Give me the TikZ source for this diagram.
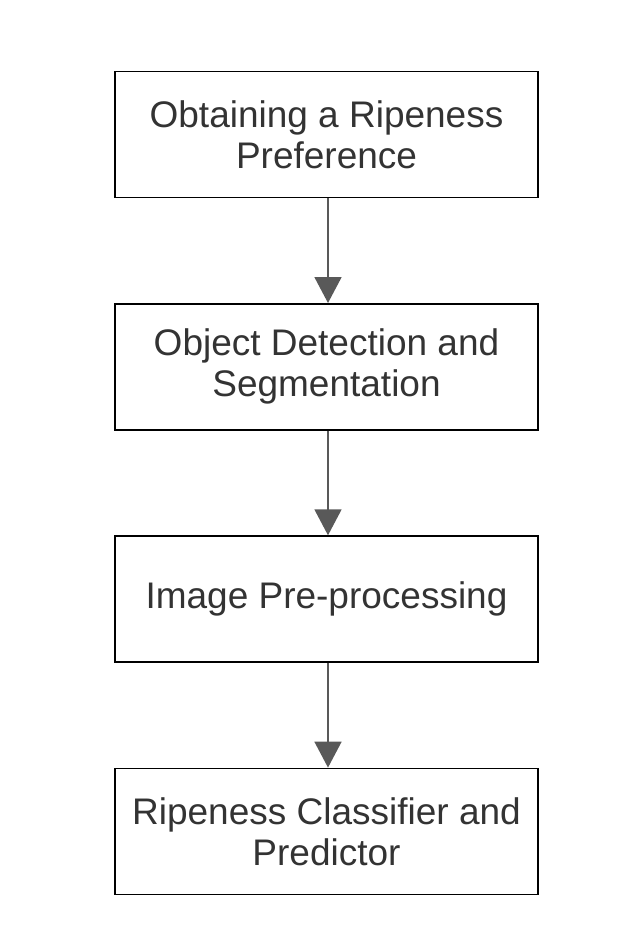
\documentclass[tikz,border=0pt]{standalone}
\usepackage{fontspec}
\setmainfont{Liberation Sans}
\usetikzlibrary{positioning, arrows.meta}

\definecolor{arrowgray}{HTML}{595959}
\definecolor{textgray}{HTML}{333333}

\tikzset{
    stagebox/.style={draw=black, line width=1.6pt, minimum width=423pt, minimum height=126pt,
        align=center, text=textgray, font=\fontsize{37}{41}\selectfont, inner sep=0pt},
    flowarrow/.style={draw=arrowgray, line width=1.8pt, -{Triangle[width=27pt, length=26pt]}}
}

\begin{document}
\begin{tikzpicture}[x=1pt, y=1pt]
    % Canvas
    \useasboundingbox (0,0) rectangle (638,-950);

    % Pipeline stages
    \node[stagebox] (pref) at (326.5,-134.5) {Obtaining a Ripeness\\Preference};
    \node[stagebox, below=104.7pt of pref] (detect) {Object Detection and\\Segmentation};
    \node[stagebox, below=104.7pt of detect] (prep) {Image Pre-processing};
    \node[stagebox, below=104.7pt of prep] (classify) {Ripeness Classifier and\\Predictor};

    % Arrows between stages
    \draw[flowarrow] ([xshift=1.5pt]pref.south) -- ([xshift=1.5pt]detect.north);
    \draw[flowarrow] ([xshift=1.5pt]detect.south) -- ([xshift=1.5pt]prep.north);
    \draw[flowarrow] ([xshift=1.5pt]prep.south) -- ([xshift=1.5pt]classify.north);
\end{tikzpicture}
\end{document}
